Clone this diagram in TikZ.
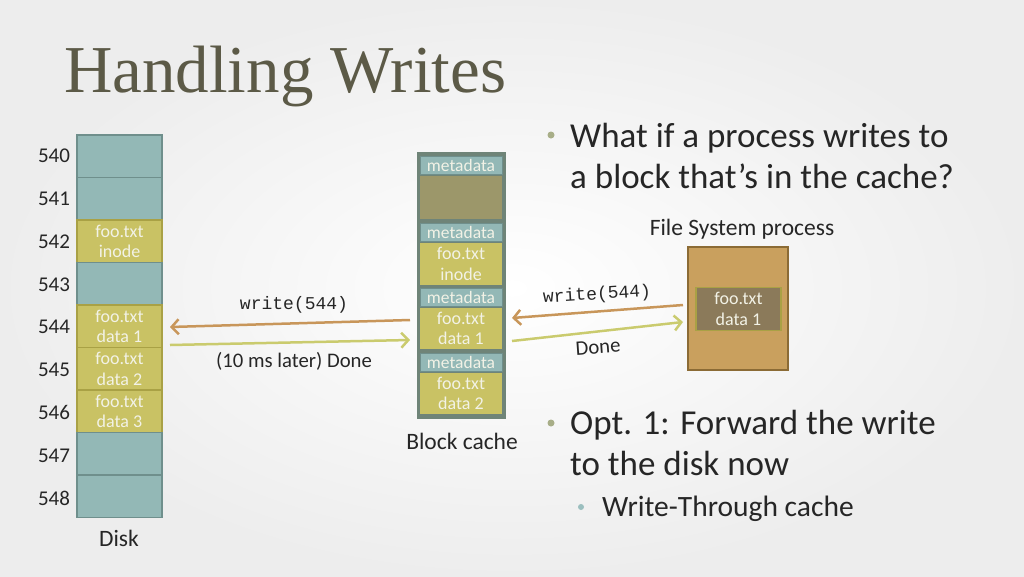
\documentclass[tikz,border=0pt]{standalone}
\usepackage{fontspec}
\setmainfont{Carlito}
\newfontfamily\titlefont{Liberation Serif}
\newfontfamily\codefont{Liberation Mono}
\usetikzlibrary{arrows.meta}
\definecolor{teal1}{HTML}{93B8B6}
\definecolor{tealdk}{HTML}{6F8F8C}
\definecolor{yel1}{HTML}{C9C264}
\definecolor{yeldk}{HTML}{A9A145}
\definecolor{oliv1}{HTML}{9C976A}
\definecolor{frame1}{HTML}{6F8478}
\definecolor{tan1}{HTML}{C9A05E}
\definecolor{tandk}{HTML}{8B6B35}
\definecolor{brn1}{HTML}{8B7A5A}
\definecolor{warr}{HTML}{C8965A}
\definecolor{darr}{HTML}{CACB6E}
\definecolor{txt}{HTML}{262626}
\definecolor{ttl}{HTML}{5C5A47}
\definecolor{bul1}{HTML}{A8AE88}
\definecolor{bul2}{HTML}{9BBFBF}
\definecolor{boxtxt}{HTML}{F2F2E6}
\tikzset{
  boxfont/.style={font=\fontsize{18}{20.5}\selectfont, text=boxtxt, align=center},
  diskblk/.style={draw=tealdk, line width=1.6pt, fill=teal1, minimum width=85pt, minimum height=42.5pt, inner sep=0pt, boxfont},
  diskyel/.style={diskblk, fill=yel1, draw=yeldk},
  numlbl/.style={font=\fontsize{21}{23}\selectfont, text=txt, anchor=center},
  meta/.style={draw=tealdk, line width=0.8pt, fill=teal1, minimum width=82pt, minimum height=18pt, inner sep=0pt, font=\fontsize{17.5}{18}\selectfont, text=boxtxt},
  cyel/.style={fill=yel1, minimum width=82pt, minimum height=42pt, inner sep=0pt, boxfont},
  lbl/.style={font=\fontsize{23.5}{26}\selectfont, text=txt},
  code/.style={font=\codefont\fontsize{18}{20}\selectfont, text=txt},
  warrow/.style={draw=warr, line width=2.5pt, -{Straight Barb[length=7pt,width=15pt,line width=2.5pt]}},
  darrow/.style={draw=darr, line width=2.5pt, -{Straight Barb[length=7pt,width=15pt,line width=2.5pt]}},
  bigtxt/.style={font=\fontsize{35}{41}\selectfont, text=txt, anchor=base west, inner sep=0pt},
  bul/.style={circle, fill=bul1, inner sep=0pt, minimum size=7pt},
}
\begin{document}
\begin{tikzpicture}[x=1pt,y=-1pt]
\useasboundingbox (0,0) rectangle (1024,576);
\shade[inner color=white, outer color=black!7] (0,0) rectangle (1024,576);
% title
\node[anchor=base west, text=ttl, font=\titlefont\fontsize{67}{70}\selectfont, inner sep=0pt] (title) at (64,92) {Handling Writes};
% disk
\foreach \i/\s in {0/diskblk,1/diskblk,2/diskyel,3/diskblk,4/diskyel,5/diskyel,6/diskyel,7/diskblk,8/diskblk}{
  \node[\s] (d\i) at (119.5,{156.3+42.5*\i}) {};
  \node[numlbl] (n\i) at (54,{156+42.8*\i}) {54\i};
}
\node[boxfont] at (d2) {foo.txt\\inode};
\node[boxfont] at (d4) {foo.txt\\data 1};
\node[boxfont] at (d5) {foo.txt\\data 2};
\node[boxfont] at (d6) {foo.txt\\data 3};
\node[lbl] (disk) at (119,538) {Disk};
% block cache
\node[draw=frame1, fill=frame1, line width=1pt, minimum width=88pt, minimum height=266pt, inner sep=0pt] (cache) at (461,285) {};
\node[meta] (m1) at (461,165) {metadata};
\node[cyel, fill=oliv1, minimum height=43pt] (c1) at (461,197.5) {};
\node[meta] (m2) at (461,232) {metadata};
\node[cyel] (c2) at (461,264) {foo.txt\\inode};
\node[meta] (m3) at (461,297.5) {metadata};
\node[cyel, minimum height=41pt] (c3) at (461,328.5) {foo.txt\\data 1};
\node[meta] (m4) at (461,362.5) {metadata};
\node[cyel, minimum height=41pt] (c4) at (461,393.5) {foo.txt\\data 2};
\node[lbl] (cachelbl) at (462,441) {Block cache};
% process
\node[draw=tandk, fill=tan1, line width=2pt, minimum width=100pt, minimum height=123pt, inner sep=0pt] (proc) at (738,308.5) {};
\node[draw=yeldk, fill=brn1, line width=1.5pt, minimum width=85pt, minimum height=43pt, inner sep=0pt, boxfont] (pdata) at (738.5,309) {foo.txt\\data 1};
\node[lbl] (proclbl) at (742,229) {File System process};
% arrows
\path (410,320) coordinate (cw1) (170,327) coordinate (dw1) (170,345) coordinate (dd1) (410,340) coordinate (cd1);
\path (683,305) coordinate (pw1) (512,318) coordinate (ce1) (512,341) coordinate (ce2) (683,322) coordinate (pd1);
\draw[warrow] (cw1) -- (dw1);
\draw[darrow] (dd1) -- (cd1);
\draw[warrow] (pw1) -- (ce1);
\draw[darrow] (ce2) -- (pd1);
\node[code] (wl1) at (294,305) {write(544)};
\node[lbl, font=\fontsize{20.7}{24}\selectfont] (dl1) at (294,361) {(10 ms later) Done};
\node[code, rotate=3.5] (wl2) at (597,295) {write(544)};
\node[lbl, font=\fontsize{20.7}{24}\selectfont, rotate=4] (dl2) at (598,347) {Done};
% bullets
\node[bul] (b1) at (551,135) {};
\node[bigtxt] (t1) at (570,147) {What if a process writes to};
\node[bigtxt] (t2) at (570,188) {a block that’s in the cache?};
\node[bul] (b2) at (551,423) {};
\node[bigtxt] (t3) at (570,434) {Opt. 1: Forward the write};
\node[bigtxt] (t4) at (570,475) {to the disk now};
\node[bul, fill=bul2, minimum size=6pt] (b3) at (581,507) {};
\node[bigtxt, font=\fontsize{29.5}{32}\selectfont] (t5) at (602,516) {Write-Through cache};
\end{tikzpicture}
\end{document}
